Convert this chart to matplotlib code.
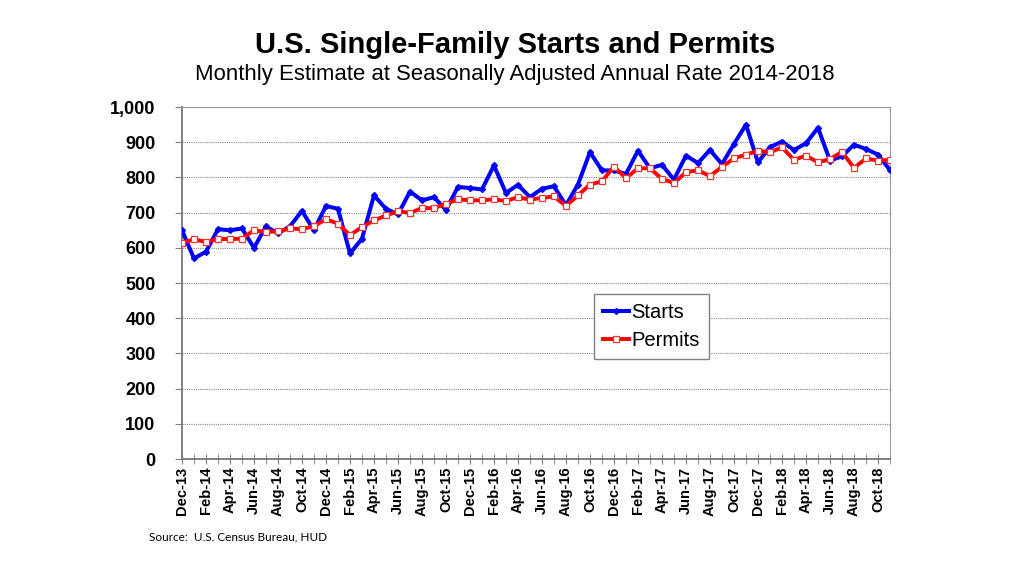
import numpy as np
import matplotlib.pyplot as plt
import pandas as pd

plt.rcParams['font.family'] = ['Liberation Sans', 'DejaVu Sans']

# monthly, Dec-13 .. Nov-18, thousands of units SAAR
months = pd.date_range('2013-12-01', '2018-11-01', freq='MS').strftime('%b-%y').tolist()

starts = [650, 570, 589, 653, 650, 655, 600, 661, 641, 661, 705, 650, 719, 711, 584, 626,
          749, 711, 695, 760, 735, 744, 708, 773, 770, 766, 834, 756, 779, 744,
          768, 775, 721, 780, 872, 820, 820, 810, 876, 826, 836, 794, 862, 841, 878,
          838, 895, 950, 843, 886, 902, 878, 897, 941, 848, 860, 893, 881, 865, 821]

permits = [615, 624, 617, 625, 625, 626, 650, 645, 647, 655, 653, 662, 681, 669, 636, 659,
           678, 692, 704, 699, 713, 713, 725, 738, 735, 735, 738, 733, 744, 737,
           742, 746, 719, 749, 780, 789, 831, 798, 826, 826, 796, 784, 815, 820, 804,
           830, 854, 865, 876, 871, 886, 850, 862, 843, 852, 873, 827, 854, 848, 850]

yticks = list(range(0, 1001, 100))

fig = plt.figure(figsize=(10.24, 5.76), dpi=100)
ax = fig.add_axes([0.1777, 0.2031, 0.6914, 0.611])

x = np.arange(len(months))
ax.plot(x, starts, color='#0000FF', lw=2.9, marker='D', ms=3, label='Starts', zorder=3)
ax.plot(x, permits, color='#FF0000', lw=2.8, marker='s', ms=5, mfc='white',
        mec='#FF3030', mew=0.9, label='Permits', zorder=4)

ax.set_xlim(0, len(months) - 1)
ax.set_ylim(0, 1000)
ax.set_yticks(yticks)
ax.set_yticklabels([f'{v:,}' for v in yticks], fontweight='bold', fontsize=13)
ax.yaxis.grid(True, ls=(0, (1, 1)), color='#888888', lw=0.8)
ax.set_axisbelow(True)

ax.set_xticks(x[::2])
ax.set_xticklabels(months[::2], rotation=90, fontweight='bold', fontsize=10.5)
ax.set_xticks(x, minor=True)
ax.tick_params(axis='x', which='both', direction='inout', length=7, color='#808080', pad=2)
ax.tick_params(axis='y', direction='out', length=5, color='#808080', pad=14)

for s in ax.spines.values():
    s.set_color('#999999')
ax.spines['left'].set_color('#777777')
ax.spines['bottom'].set_color('#777777')
ax.spines['left'].set_linewidth(1.3)
ax.spines['bottom'].set_linewidth(1.3)

leg = ax.legend(loc='lower left', bbox_to_anchor=(0.582, 0.284), fontsize=14.5,
                frameon=True, fancybox=False, edgecolor='#808080', framealpha=1,
                borderaxespad=0, handlelength=1.3, handletextpad=0.1,
                borderpad=0.45, labelspacing=0.45)
leg.get_frame().set_linewidth(1.0)

fig.text(0.503, 0.922, 'U.S. Single-Family Starts and Permits', ha='center', va='center',
         fontsize=21, fontweight='bold')
fig.text(0.503, 0.870, 'Monthly Estimate at Seasonally Adjusted Annual Rate 2014-2018',
         ha='center', va='center', fontsize=15.9)
fig.text(149 / 1024, 1 - 537 / 576, 'Source:  U.S. Census Bureau, HUD', ha='left',
         va='center', fontsize=8.5, family=['Lato', 'DejaVu Sans'])

fig.savefig('out.png', dpi=100)
